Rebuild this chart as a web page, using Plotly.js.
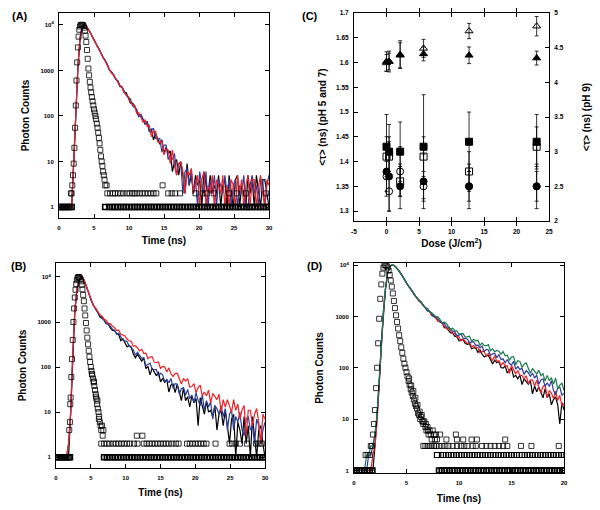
<!DOCTYPE html>
<html>
<head>
<meta charset="utf-8">
<script src="https://cdn.plot.ly/plotly-3.0.1.min.js"></script>
<style>
  body { margin: 0; background: #fff; }
  #fig { width: 600px; height: 510px; }
</style>
</head>
<body>
<div id="fig"></div>
<script>
// ---- panel A : decays sampled every 0.3 ns from t = 0 ----
var stepAB = 0.3;
var aBlack = [1,1,1,1,1,1,1,9,95,1150,4950,9250,10000,
  9285,8041,6494,5385,4424,3583,3037,2384,1897,1646,1365,1016,924,776,638,598,466,423,327,327,248,192,191,167,127,98,107,86,66,76,48,51,30,41,32,24,30,15,21,15,17,6,10,11,5,10,5,2,9,3,5,2,5,3,4,1,6,3,2,5,2,3,2,5,1,3,4,1,5,2,1,4,5,1,3,2,1,5,2,4,1,5,2,1,4,4,2,1];
var aBlue = [1,1,1,1,1,1,1,10,98,1180,5020,9280,10000,
  9449,7907,6680,5253,4385,3691,2892,2424,1941,1690,1289,1029,930,815,648,564,437,429,360,280,257,236,166,151,141,95,108,85,67,71,45,48,54,32,31,32,16,23,23,11,14,11,15,5,9,9,2,6,7,3,7,2,4,1,6,3,2,6,1,4,2,5,1,4,3,2,5,2,4,1,3,4,1,3,2,5,1,1,3,5,2,3,1,4,4,1,3,5];
var aRed = [1,1,1,1,1,1,1,10,100,1200,5000,9300,10000,
  9410,7836,6631,5480,4325,3523,3000,2409,1906,1674,1304,1095,867,807,656,574,459,443,323,297,267,204,178,172,114,118,95,73,82,59,62,35,45,46,27,26,28,14,19,18,9,18,8,5,9,10,6,2,6,5,7,2,3,5,1,4,6,1,3,2,5,1,4,3,2,5,1,3,1,4,3,1,5,2,4,1,3,5,1,4,4,1,3,5,2,1,4,3];
var aIrfX = [1.7,1.8,1.9,2.0,2.1,2.2,2.3,2.4,2.5,2.6,2.7,2.8,2.9,3.0,3.1,3.2,3.3,3.4,3.5,3.6,3.7,3.8,3.9,4.0,4.1,4.2,4.3,4.4,4.5,4.6,4.7,4.8,4.9,5.0,5.1,5.2,5.3,5.4,5.5,5.6,5.7,5.8,5.9,6.0,6.1,6.2,6.3,6.4,6.5,6.6,6.8,14.8];
var aIrfY = [2,2,3,5,9,20,55,170,600,1500,3200,5500,7800,9200,9900,10000,10000,9900,9500,8700,7400,5800,4200,2800,1800,1100,780,560,420,330,260,210,170,140,118,100,85,68,55,43,33,25,18,13,10,8,6,5,4,3,3,3];
var aOnes = [0,0.3,0.6,0.9,1.2,1.5,1.8,6.6,7.2,7.6,8.0,8.4,8.8,9.2,9.6,10.0,10.4,10.8,11.2,11.6,12.0,12.4,12.8,13.2,13.6,14.0,14.4,14.8,15.2,15.6,16.0,16.4,16.8,17.2,17.6,18.0,18.4,18.8,19.2,19.6,20.0,20.4,20.8,21.2,21.6,22.0,22.4,22.8,23.2,23.6,24.0,24.4,24.8,25.2,25.6,26.0,26.4,26.8,27.2,27.6,28.0,28.4,28.8,29.2,29.6,30.0];
var aTwos = [6.9,7.3,7.7,8.0,8.4,8.8,9.2,9.7,10.1,10.5,10.8,11.1,11.5,11.9,12.3,12.7,13.1,13.5,13.9,15.6,16.1,16.6,17.3,19.5,20.5,21.1,22.1,24.3,25.4,26.7,29.6];

// ---- panel B ----
var bBlack = [1,1,1,1,1,1,1,9,180,1700,5100,8600,10000,
  9285,7338,5147,3814,2881,2265,1985,1618,1287,1207,1100,912,891,740,652,652,547,530,387,428,341,281,303,278,195,161,192,162,136,160,92,104,67,94,77,64,79,47,56,46,53,28,40,42,27,42,28,18,34,18,22,13,23,16,20,5,21,13,9,17,10,11,8,14,4,9,11,5,11,5,2,7,9,1,6,4,2,8,2,5,1,8,3,1,4,5,2,1];
var bBlue = [1,1,1,1,1,1,2,9,190,1750,5150,8650,10000,
  9449,7210,5313,3703,2878,2375,1887,1667,1368,1286,1067,956,927,814,694,648,542,563,465,392,382,370,290,273,240,184,212,179,157,162,107,114,122,90,87,89,62,73,68,48,53,45,56,34,43,42,25,33,35,24,32,20,24,16,27,18,14,24,11,18,13,17,7,14,12,9,14,8,12,4,9,11,4,8,6,10,4,3,7,8,4,5,2,7,5,2,4,6];
var bRed = [1,1,1,1,1,1,2,10,200,1800,5200,8700,10000,
  9410,7142,5270,3895,2919,2311,2035,1706,1441,1365,1161,1095,930,924,807,755,653,662,531,515,490,413,383,373,288,298,269,228,247,202,203,153,167,171,129,125,129,93,103,101,78,96,71,62,72,73,57,42,56,49,55,36,37,43,27,35,40,23,28,23,31,16,26,22,19,25,10,19,13,19,14,10,19,11,15,7,11,14,3,11,11,5,9,12,6,2,9,7];
var bIrfX = [1.9,2.0,2.05,2.1,2.2,2.3,2.4,2.5,2.6,2.7,2.8,2.9,3.0,3.1,3.2,3.3,3.4,3.5,3.6,3.7,3.8,3.9,4.0,4.1,4.2,4.3,4.4,4.5,4.6,4.7,4.8,4.9,5.0,5.1,5.2,5.3,5.4,5.5,5.6,5.7,5.8,5.9,6.0,6.1,6.2,6.3,6.4,6.5,6.6,6.7,6.8,5.15,5.45,5.75,5.95,6.15,11.6,12.4];
var bIrfY = [4,6,15,21,60,150,400,1000,2000,3500,5200,7000,8500,9500,10000,10000,9700,9000,8000,6700,5300,4000,2900,2000,1400,950,650,450,320,230,170,130,100,82,68,56,46,38,31,25,20,15,12,10,8,6,5,4,5,3,4,70,48,22,18,7,3,3];
var bOnes = [0,0.3,0.6,0.9,1.2,1.5,1.8,2.0,6.9,7.3,7.7,8.1,8.5,8.9,9.3,9.7,10.1,10.5,10.9,11.3,11.7,12.1,12.5,12.9,13.3,13.7,14.1,14.5,14.9,15.3,15.7,16.1,16.5,16.9,17.3,17.7,18.1,18.5,18.9,19.3,19.7,20.1,20.5,20.9,21.3,21.7,22.1,22.5,22.9,23.3,23.7,24.1,24.5,24.9,25.3,25.7,26.1,26.5,26.9,27.3,27.7,28.1,28.5,28.9,29.3,29.7,30.0];
var bTwos = [6.5,6.9,7.3,7.7,8.2,8.6,9.0,9.4,9.8,10.2,10.6,11.2,11.7,12.6,13.0,13.4,13.8,14.2,14.6,15.0,15.4,15.8,16.2,16.7,17.2,17.6,18.8,19.2,19.6,20.0,20.4,20.8,21.2,21.6,22.9,24.9,25.3,25.8,26.4,27.4,28.7,29.1,29.6];

// ---- panel C : mean lifetime vs dose ----
var dose = [0, 0.4, 2.1, 5.7, 12.7, 23.1];
var sqFilled = [1.43, 1.42, 1.42, 1.43, 1.44, 1.44];
var sqFilledErr = [0.065, 0.055, 0.06, 0.105, 0.06, 0.055];
var sqOpen = [1.41, 1.41, 1.36, 1.41, 1.38, 1.43];
var sqOpenErr = [0.04, 0.04, 0.03, 0.04, 0.04, 0.04];
var circFilled = [1.38, 1.37, 1.35, 1.36, 1.35, 1.35];
var circFilledErr = [0.05, 0.07, 0.045, 0.055, 0.045, 0.045];
var circOpen = [1.37, 1.34, 1.38, 1.35, 1.35, 1.35];
var circOpenErr = [0.03, 0.04, 0.05, 0.03, 0.03, 0.03];
var triFilled = [4.30, 4.30, 4.39, 4.41, 4.39, 4.35];
var triFilledErr = [0.14, 0.12, 0.18, 0.10, 0.12, 0.10];
var triOpen = [4.28, 4.30, 4.40, 4.49, 4.74, 4.81];
var triOpenErr = [0.12, 0.15, 0.20, 0.13, 0.11, 0.14];

// ---- panel D : decays sampled every 0.2 ns ----
var stepD = 0.2;
var dBlack = [1,1,1,1,1,1,1,1,1,1,3,11,48,290,1180,3450,6950,9300,10000,
  9851,9005,8155,7205,6119,5118,4527,3902,3330,3022,2550,2325,1974,1867,1614,1464,1285,1264,1053,1003,942,812,768,745,605,604,537,476,483,407,407,335,354,353,295,286,293,235,245,241,199,224,183,162,172,174,144,118,140,125,133,101,98,108,79,91,98,66,71,61,72,47,61,54,48,56,31,44,34,42,32,26,39,26,31,19,24,27,19,8,21,15];
var dRed = [1,1,1,1,1,1,1,1,1,2,3,9,45,280,1150,3400,6900,9250,10000,
  9722,9225,8002,7096,6237,5190,4574,3871,3318,2984,2636,2210,2060,1820,1586,1502,1296,1230,1060,1060,915,797,804,742,642,581,586,528,460,469,392,404,333,360,330,296,316,252,272,248,250,194,211,205,169,189,157,139,171,132,137,112,126,109,110,77,110,89,76,88,71,71,60,70,49,58,58,44,57,41,32,43,47,26,36,32,25,35,23,29,18,20];
var dBlue = [1,1,1,1,1,1,1,2,2,3,5,12,55,310,1220,3500,7000,9350,10000,
  9890,9082,8209,6945,6190,5320,4394,3921,3376,3043,2529,2229,2069,1880,1602,1449,1274,1264,1141,991,979,927,789,742,738,613,628,561,516,506,421,432,453,375,369,363,303,319,323,272,275,246,266,206,228,222,173,187,191,156,182,144,149,125,145,121,113,134,94,106,92,98,74,88,80,68,79,63,72,48,58,61,43,51,43,56,36,30,40,42,29,32];
var dGreen = [1,1,1,1,1,1,2,2,3,3,5,13,58,320,1250,3550,7050,9350,10000,
  9871,9053,8101,7197,6040,5291,4467,3821,3458,2924,2616,2245,2101,1925,1621,1470,1438,1224,1172,1086,989,984,851,759,776,729,626,550,593,530,523,449,463,462,393,404,411,329,360,333,342,274,301,272,269,282,215,234,206,218,210,184,206,171,176,138,161,164,115,137,132,102,117,124,96,78,97,87,75,89,70,77,55,71,56,64,48,63,39,46,50,36];
var dIrfX = [1.1,1.3,1.5,1.6,1.7,1.8,1.9,2.0,2.1,2.2,2.3,2.4,2.5,2.6,2.7,2.8,2.9,3.0,3.1,3.2,3.3,3.4,3.5,3.6,3.7,3.8,3.9,4.0,4.1,4.2,4.3,4.4,4.5,4.6,4.7,4.8,4.9,5.0,5.1,5.2,5.3,5.4,5.5,5.6,5.7,5.8,5.9,6.0,6.1,6.2,6.3,6.4,6.5,6.6,6.7,6.8,6.9,7.0,7.1,7.2,7.3,7.4,7.5,7.6,7.7,7.8,
  5.25,5.45,5.65,5.85,6.05,6.25,6.45,6.6,6.85,7.05,7.9,8.8,9.8,10.4,11.2,11.7,14.4,8.2,9.7];
var dIrfY = [2,2,2,3,3,5,8,15,40,100,300,900,2200,4200,6800,8900,9900,10000,9700,9000,7800,6400,5000,3800,2800,2000,1450,1050,780,580,430,330,250,195,150,120,100,82,68,55,47,38,33,28,24,20,18,16,13,12,10,11,9,8,9,7,6,7,5,6,5,4,6,5,4,5,
  62,45,35,26,19,14,12,9,8,6,4,4,4,4,4,4,4,5,5];
var dOnes = [0,0.25,0.5,0.75,1,1.25,1.5,1.75,8.1,8.35,8.6,8.85,9.1,9.35,9.6,9.85,10.1,10.35,10.6,10.85,11.1,11.35,11.6,11.85,12.1,12.35,12.6,12.85,13.1,13.35,13.6,13.85,14.1,14.35,14.6,14.85,15.1,15.35,15.6,15.85,16.1,16.35,16.6,16.85,17.1,17.35,17.6,17.85,18.1,18.35,18.6,18.85,19.1,19.35,19.6,19.85,20];
var dTwos = [7.9,8.5,8.75,9,9.25,9.5,9.75,10,10.25,10.5,10.75,11,11.25,11.5,11.75,12,12.25,12.5,12.75,13,13.25,13.5,13.75,14,14.25,14.5,14.75,15,15.25,15.5,16,16.25,16.5,16.75,17,17.25,17.5,17.75,18,18.25,18.5,18.75,19,19.25,19.5,19.75,20];
var dThrees = [6.6,6.8,7.0,7.2,7.4,7.6,7.8,8.1,8.4,8.7,9.0,9.4,9.8,10.2,10.5,10.8,11.3,11.6,12.2,12.6,13.0,13.4,13.8,14.2,14.6,15.9,16.9,19.5];

var logTicks = [1, 10, 100, 1000, 10000];
var logText = ['1', '10', '100', '1000', '10<sup>4</sup>'];
var doseTicks = [-5, 0, 5, 10, 15, 20, 25];
var doseText = ['-5', '0', '5', '10', '15', '20', '25'];
var leftTicks = [1.3, 1.35, 1.4, 1.45, 1.5, 1.55, 1.6, 1.65, 1.7];
var leftText = ['1.3', '1.35', '1.4', '1.45', '1.5', '1.55', '1.6', '1.65', '1.7'];
var rightTicks = [2, 2.5, 3, 3.5, 4, 4.5, 5];
var rightText = ['2', '2.5', '3', '3.5', '4', '4.5', '5'];

var RED = '#ee2229', BLUE = '#2c3c98', GREEN = '#1b7a4c';
var FONT = 'Liberation Sans, Arial, sans-serif';

function decay(y, dx, color, xa, ya) {
  return { type: 'scatter', mode: 'lines', y: y, x0: 0, dx: dx,
    line: { color: color, width: 1.2 }, xaxis: xa, yaxis: ya, hoverinfo: 'skip' };
}
function squares(x, y, xa, ya, lw) {
  return { type: 'scatter', mode: 'markers', x: x, y: y, xaxis: xa, yaxis: ya, hoverinfo: 'skip',
    marker: { symbol: 'square-open', size: 5, color: '#000', line: { width: lw || 0.8, color: '#000' } } };
}
// the dense baseline runs of the lamp profile pile up into a near-solid bar
function row(x, level, xa, ya, lw) {
  return squares(x, x.map(function () { return level; }), xa, ya, lw);
}
function lifetime(y, err, symbol, ya) {
  return { type: 'scatter', mode: 'markers', x: dose, y: y, xaxis: 'x3', yaxis: ya, hoverinfo: 'skip',
    marker: { symbol: symbol, size: 7, color: '#000', line: { width: 1, color: '#000' } },
    error_y: { type: 'data', array: err, visible: true, color: '#000', thickness: 0.8, width: 2 } };
}

var data = [
  decay(aBlack, stepAB, '#000', 'x', 'y'),
  decay(aBlue, stepAB, BLUE, 'x', 'y'),
  decay(aRed, stepAB, RED, 'x', 'y'),
  squares(aIrfX, aIrfY, 'x', 'y'),
  row(aOnes, 1, 'x', 'y', 1.6),
  row(aTwos, 2, 'x', 'y'),

  decay(bBlack, stepAB, '#000', 'x2', 'y2'),
  decay(bBlue, stepAB, BLUE, 'x2', 'y2'),
  decay(bRed, stepAB, RED, 'x2', 'y2'),
  squares(bIrfX, bIrfY, 'x2', 'y2'),
  row(bOnes, 1, 'x2', 'y2', 1.6),
  row(bTwos, 2, 'x2', 'y2'),

  lifetime(sqOpen, sqOpenErr, 'square-open', 'y3'),
  lifetime(sqFilled, sqFilledErr, 'square', 'y3'),
  lifetime(circOpen, circOpenErr, 'circle-open', 'y3'),
  lifetime(circFilled, circFilledErr, 'circle', 'y3'),
  lifetime(triOpen, triOpenErr, 'triangle-up-open', 'y5'),
  lifetime(triFilled, triFilledErr, 'triangle-up', 'y5'),

  decay(dBlack, stepD, '#000', 'x4', 'y4'),
  decay(dRed, stepD, RED, 'x4', 'y4'),
  decay(dBlue, stepD, BLUE, 'x4', 'y4'),
  decay(dGreen, stepD, GREEN, 'x4', 'y4'),
  squares(dIrfX, dIrfY, 'x4', 'y4'),
  row(dOnes, 1, 'x4', 'y4', 1.6),
  row(dTwos, 2, 'x4', 'y4', 1.2),
  row(dThrees, 3, 'x4', 'y4')
];

function axis(extra) {
  var base = { showline: true, linecolor: '#000', linewidth: 1, mirror: 'allticks',
    ticks: 'inside', ticklen: 4, tickcolor: '#000', tickwidth: 1,
    showgrid: false, zeroline: false, fixedrange: true,
    tickfont: { family: FONT, size: 6, weight: 'bold', color: '#000' } };
  return Object.assign(base, extra);
}
function title(text, standoff) {
  return { text: text, standoff: standoff, font: { family: FONT, size: 10, weight: 'bold', color: '#000' } };
}
function label(text, x, y) {
  return { text: text, xref: 'paper', yref: 'paper', x: x / 600, y: 1 - y / 510,
    xanchor: 'center', yanchor: 'middle', showarrow: false,
    font: { family: FONT, size: 11, weight: 'bold', color: '#000' } };
}
var cFont = { family: FONT, size: 6.5, weight: 'bold', color: '#000' };

var layout = {
  width: 600, height: 510,
  margin: { l: 0, r: 0, t: 0, b: 0 },
  paper_bgcolor: '#fff', plot_bgcolor: '#fff',
  showlegend: false,
  xaxis: axis({ domain: [59 / 600, 269 / 600], anchor: 'y', range: [0, 30], dtick: 5, ticklabelstandoff: 4, title: title('Time (ns)', 6) }),
  yaxis: axis({ domain: [1 - 218 / 510, 1 - 13 / 510], anchor: 'x', type: 'log', range: [-0.24, 4.26],
    tickvals: logTicks, ticktext: logText, ticklabelstandoff: 3, title: title('Photon Counts', 8) }),
  xaxis2: axis({ domain: [56 / 600, 265 / 600], anchor: 'y2', range: [0, 30], dtick: 5, ticklabelstandoff: 4, title: title('Time (ns)', 8) }),
  yaxis2: axis({ domain: [1 - 468 / 510, 1 - 263 / 510], anchor: 'x2', type: 'log', range: [-0.24, 4.31],
    tickvals: logTicks, ticktext: logText, ticklabelstandoff: 3, title: title('Photon Counts', 8) }),
  xaxis3: axis({ domain: [354 / 600, 549 / 600], anchor: 'y3', range: [-5, 25],
    tickvals: doseTicks, ticktext: doseText, ticklabelstandoff: 4, tickfont: cFont,
    title: title('Dose (J/cm<sup>2</sup>)', 6) }),
  yaxis3: axis({ domain: [1 - 221 / 510, 1 - 13 / 510], anchor: 'x3', range: [1.28, 1.7], mirror: false,
    tickvals: leftTicks, ticktext: leftText, ticklabelstandoff: 3, tickfont: cFont,
    title: title('<\u03c4> (ns) (pH 5 and 7)', 7) }),
  yaxis5: axis({ overlaying: 'y3', side: 'right', anchor: 'x3', range: [2, 5], mirror: false,
    tickvals: rightTicks, ticktext: rightText, ticklabelstandoff: 3, tickfont: cFont,
    title: title('<\u03c4> (ns) (pH 9)', 20) }),
  xaxis4: axis({ domain: [354 / 600, 564 / 600], anchor: 'y4', range: [0, 20], dtick: 5, ticklabelstandoff: 4, title: title('Time (ns)', 9) }),
  yaxis4: axis({ domain: [1 - 473 / 510, 1 - 263 / 510], anchor: 'x4', type: 'log', range: [-0.05, 4.04],
    tickvals: logTicks, ticktext: logText, ticklabelstandoff: 3, title: title('Photon Counts', 9) }),
  annotations: [
    label('(A)', 19.5, 16),
    label('(B)', 18.5, 266),
    label('(C)', 309.5, 16),
    label('(D)', 314.5, 266)
  ]
};

Plotly.newPlot('fig', data, layout, { staticPlot: true, displayModeBar: false });
</script>
</body>
</html>
